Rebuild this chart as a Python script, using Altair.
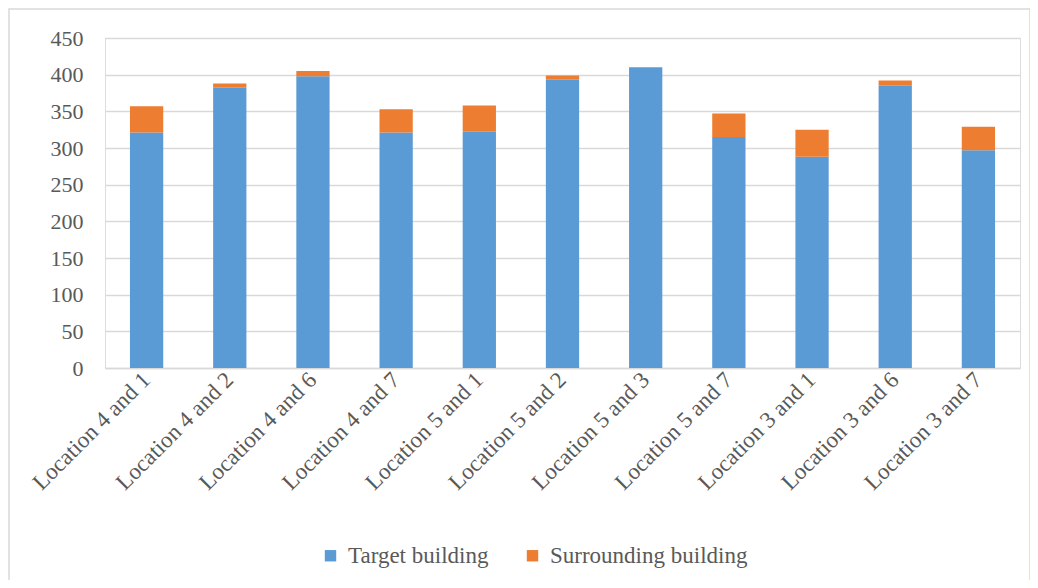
import altair as alt
import pandas as pd

categories = ["Location 4 and 1", "Location 4 and 2", "Location 4 and 6", "Location 4 and 7",
              "Location 5 and 1", "Location 5 and 2", "Location 5 and 3", "Location 5 and 7",
              "Location 3 and 1", "Location 3 and 6", "Location 3 and 7"]
target = [321, 382, 398, 321, 322, 393, 410, 315, 288, 385, 297]
surrounding = [36, 6, 7, 32, 36, 6, 0, 32, 37, 7, 32]
series = ["Target building", "Surrounding building"]

rows = []
for c, t, s in zip(categories, target, surrounding):
    rows.append({"cat": c, "series": series[0], "value": t, "ord": 0})
    rows.append({"cat": c, "series": series[1], "value": s, "ord": 1})
df = pd.DataFrame(rows)

font = "'Liberation Serif', 'Times New Roman', serif"
grey = "#595959"

bars = alt.Chart(df).mark_bar().encode(
    x=alt.X("cat:N", sort=categories, title=None,
            scale=alt.Scale(paddingInner=0.6, paddingOuter=0.3),
            axis=alt.Axis(labelAngle=-45, labelAlign="right", labelBaseline="middle",
                          labelFont=font, labelFontSize=23, labelColor=grey,
                          ticks=False, domainColor="#d9d9d9", domainWidth=1.5,
                          labelPadding=8, labelLimit=300)),
    y=alt.Y("value:Q", stack="zero", title=None,
            scale=alt.Scale(domain=[0, 450], nice=False),
            axis=alt.Axis(values=list(range(0, 451, 50)), labelFont=font, labelFontSize=22,
                          labelColor=grey, ticks=False, domain=False, labelPadding=22,
                          gridColor="#d9d9d9", gridWidth=1.5)),
    color=alt.Color("series:N", sort=series,
                    scale=alt.Scale(domain=series, range=["#5B9BD5", "#ED7D31"]),
                    legend=alt.Legend(title=None, orient="none", direction="horizontal",
                                      legendX=214, legendY=506, symbolType="square",
                                      symbolSize=130, symbolStrokeWidth=0,
                                      labelFont=font, labelFontSize=23, labelColor=grey,
                                      labelLimit=400, columnPadding=32, labelOffset=6)),
    order=alt.Order("ord:Q")
)

frame = alt.Chart(pd.DataFrame({"f": [0]})).mark_rect(
    fill=None, stroke="#d9d9d9", strokeWidth=1.5
).encode(
    x=alt.value(-96), x2=alt.value(925), y=alt.value(-29), y2=alt.value(560)
)

chart = alt.layer(frame, bars).properties(
    width=915, height=330,
    autosize=alt.AutoSizeParams(type="none"),
    padding={"left": 97, "top": 30, "right": 10, "bottom": 212}
).configure_view(stroke=None).configure(background="white")

chart.save("out.html", embed_options={"renderer": "svg", "actions": False})
